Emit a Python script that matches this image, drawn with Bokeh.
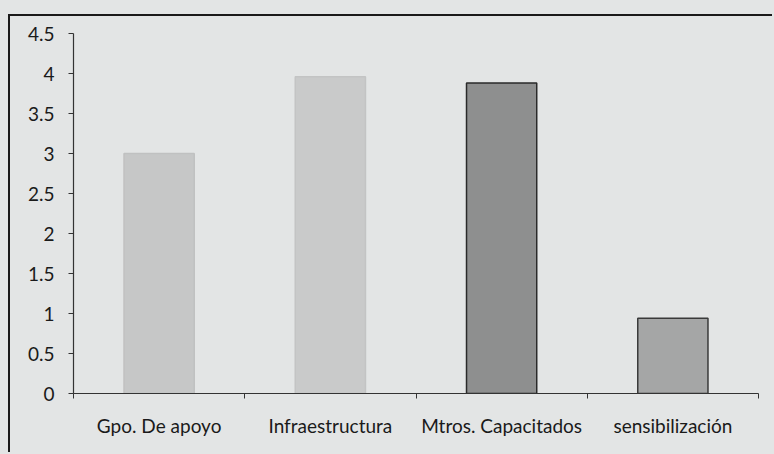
from bokeh.plotting import figure
from bokeh.layouts import column
from bokeh.models import FixedTicker, Range1d
from bokeh.embed import file_html
from bokeh.resources import INLINE

# Data
categories = ["Gpo. De apoyo", "Infraestructura", "Mtros. Capacitados", "sensibilización"]
values = [3.0, 3.96, 3.88, 0.94]
y_ticks = [0, 0.5, 1, 1.5, 2, 2.5, 3, 3.5, 4, 4.5]
y_tick_labels = ["0", "0.5", "1", "1.5", "2", "2.5", "3", "3.5", "4", "4.5"]

fill_colors = ["#c6c7c7", "#c9caca", "#8e8f8f", "#a5a6a6"]
line_colors = ["#c0c1c1", "#c3c4c4", "#2a2a2a", "#3a3a3a"]

bg = "#e3e5e5"
font = "Lato"

centers = [i + 0.5 for i in range(len(categories))]

p = figure(width=764, height=438, x_range=Range1d(0, len(categories)), y_range=Range1d(0, 4.5),
           output_backend="svg", toolbar_location=None,
           min_border_left=63, min_border_right=16, min_border_top=17, min_border_bottom=61)
p.styles = {"border-left": "2px solid #1a1a1a", "border-top": "2px solid #1a1a1a"}
p.margin = (14, 0, 0, 8)
p.background_fill_color = bg
p.border_fill_color = bg
p.outline_line_color = None
p.xgrid.visible = False
p.ygrid.visible = False

p.vbar(x=centers, top=values, width=0.41, fill_color=fill_colors, line_color=line_colors, line_width=1.5)

# x axis: ticks at category boundaries, labels at centers
p.xaxis.ticker = FixedTicker(ticks=centers, minor_ticks=list(range(len(categories) + 1)))
p.xaxis.major_label_overrides = {c: lab for c, lab in zip(centers, categories)}
p.xaxis.major_tick_out = 0
p.xaxis.major_tick_in = 0
p.xaxis.minor_tick_out = 5
p.xaxis.minor_tick_in = 0
p.xaxis.major_label_standoff = 15

p.yaxis.ticker = FixedTicker(ticks=y_ticks, minor_ticks=[])
p.yaxis.major_label_overrides = {float(t): lab for t, lab in zip(y_ticks, y_tick_labels)}
p.yaxis.major_tick_out = 5
p.yaxis.major_tick_in = 0
p.yaxis.major_label_standoff = 14

for ax in (p.xaxis, p.yaxis):
    ax.axis_line_color = "#333333"
    ax.axis_line_width = 1.2
    ax.major_tick_line_color = "#333333"
    ax.minor_tick_line_color = "#333333"
    ax.major_label_text_font = font
    ax.major_label_text_font_size = "19px"
    ax.major_label_text_color = "#1a1a1a"

layout = column(p, styles={"background-color": bg}, width=774, height=454)

open("out.html", "w").write(file_html(layout, INLINE))
